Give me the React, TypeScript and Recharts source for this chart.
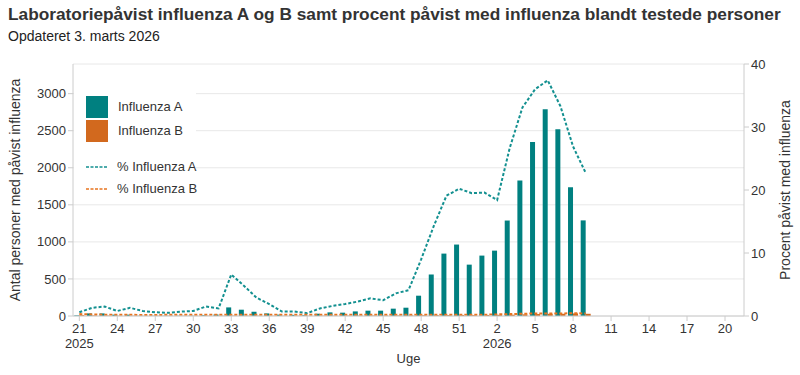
import { ComposedChart, Bar, Line, XAxis, YAxis, CartesianGrid } from "recharts";

const FONT = '"Liberation Sans", Arial, sans-serif';
const TEAL = "#008080";
const ORANGE = "#d2691e";
const TEAL_LINE = "#139090";
const ORANGE_LINE = "#e8741f";

// uge 21 2025 .. uge 21 2026
const weeks = [
  "21", "22", "23", "24", "25", "26", "27", "28", "29", "30", "31", "32", "33", "34", "35", "36",
  "37", "38", "39", "40", "41", "42", "43", "44", "45", "46", "47", "48", "49", "50", "51", "52",
  "1", "2", "3", "4", "5", "6", "7", "8", "9", "10", "11", "12", "13", "14", "15", "16",
  "17", "18", "19", "20", "21",
];
const yearLabels: Record<number, string> = { 0: "2025", 33: "2026" };

const influenzaA = [
  8, 35, 35, 18, 18, 3, 3, 3, 3, 4, 10, 20, 116, 85, 58, 35,
  18, 15, 10, 31, 49, 45, 62, 72, 72, 99, 112, 274, 560, 842, 964, 693,
  815, 882, 1288, 1828, 2346, 2788, 2518, 1738, 1290,
];
const influenzaB = [
  12, 8, 6, 4, 4, 2, 3, 4, 3, 3, 4, 4, 5, 4, 4, 3,
  3, 3, 3, 4, 4, 5, 5, 6, 6, 7, 8, 10, 12, 12, 14, 12,
  14, 16, 18, 22, 26, 30, 30, 35, 30,
];
const pctA = [
  0.6, 1.3, 1.5, 0.8, 1.3, 0.8, 0.6, 0.5, 0.7, 0.8, 1.5, 1.2, 6.6, 4.8, 2.9, 1.9,
  0.7, 0.7, 0.45, 1.2, 1.6, 1.9, 2.3, 2.8, 2.5, 3.6, 4.1, 9.0, 14.3, 19.1, 20.2, 19.5,
  19.6, 18.4, 26.7, 33.1, 36.0, 37.4, 33.3, 26.9, 22.7,
];
const pctB = [
  0.3, 0.25, 0.2, 0.2, 0.2, 0.15, 0.15, 0.2, 0.2, 0.2, 0.2, 0.2, 0.2, 0.2, 0.2, 0.2,
  0.2, 0.2, 0.2, 0.2, 0.2, 0.2, 0.2, 0.2, 0.2, 0.2, 0.2, 0.2, 0.2, 0.2, 0.2, 0.2,
  0.2, 0.25, 0.3, 0.35, 0.4, 0.4, 0.4, 0.45, 0.4,
];

const leftTicks = [0, 500, 1000, 1500, 2000, 2500, 3000];
const rightTicks = [0, 10, 20, 30, 40];

const data = weeks.map((w, i) => ({
  week: w,
  a: influenzaA[i] ?? null,
  b: influenzaB[i] ?? null,
  pa: pctA[i] ?? null,
  pb: pctB[i] ?? null,
}));

function WeekTick(props: any) {
  const { x, y, payload } = props;
  const year = yearLabels[payload.index];
  return (
    <g transform={`translate(${x},${y})`}>
      <text y={0} dy={10} textAnchor="middle" fill="#333" fontSize={13} fontFamily={FONT}>
        {payload.value}
      </text>
      {year && (
        <text y={0} dy={25} textAnchor="middle" fill="#333" fontSize={13} fontFamily={FONT}>
          {year}
        </text>
      )}
    </g>
  );
}

function ChartLegend() {
  const text = { position: "absolute" as const, left: 44, fontSize: 13, color: "#333", lineHeight: "16px", whiteSpace: "nowrap" as const };
  return (
    <div style={{ position: "absolute", left: 74, top: 90, width: 122, height: 110, background: "#fff", fontFamily: FONT }}>
      <div style={{ position: "absolute", left: 12, top: 6, width: 22, height: 22, background: TEAL }} />
      <div style={{ ...text, top: 9 }}>Influenza A</div>
      <div style={{ position: "absolute", left: 12, top: 30, width: 22, height: 22, background: ORANGE }} />
      <div style={{ ...text, top: 33 }}>Influenza B</div>
      <svg style={{ position: "absolute", left: 12, top: 72 }} width={22} height={30}>
        <line x1={0} x2={22} y1={5} y2={5} stroke={TEAL_LINE} strokeWidth={1.5} strokeDasharray="3 1.5" />
        <line x1={0} x2={22} y1={27} y2={27} stroke={ORANGE_LINE} strokeWidth={1.5} strokeDasharray="3 1.5" />
      </svg>
      <div style={{ ...text, left: 43, top: 69 }}>% Influenza A</div>
      <div style={{ ...text, left: 43, top: 91 }}>% Influenza B</div>
    </div>
  );
}

export default function App() {
  return (
    <div style={{ position: "absolute", left: 0, top: 0, width: 800, height: 375, background: "#fff", fontFamily: FONT }}>
      <div style={{ position: "absolute", left: 8, top: 4, fontSize: 17.3, fontWeight: "bold", color: "#333", whiteSpace: "nowrap" }}>
        Laboratoriepåvist influenza A og B samt procent påvist med influenza blandt testede personer
      </div>
      <div style={{ position: "absolute", left: 8, top: 28, fontSize: 14, color: "#222", whiteSpace: "nowrap" }}>
        Opdateret 3. marts 2026
      </div>
      <ComposedChart
        width={800}
        height={375}
        data={data}
        margin={{ top: 64, right: 0, bottom: 0, left: 0 }}
        barCategoryGap="10%"
        barGap={0}
      >
        <CartesianGrid yAxisId="left" vertical={false} stroke="#e8e8e8" />
        <XAxis
          dataKey="week"
          height={59}
          interval={2}
          tick={<WeekTick />}
          tickSize={5}
          axisLine={{ stroke: "#ccc" }}
          tickLine={{ stroke: "#ccc" }}
          label={{ value: "Uge", position: "insideBottom", offset: 12, fill: "#333", fontSize: 13, fontFamily: FONT }}
        />
        <YAxis
          yAxisId="left"
          width={73}
          domain={[0, 3400]}
          ticks={leftTicks}
          interval={0}
          tickSize={5}
          axisLine={{ stroke: "#ccc" }}
          tickLine={{ stroke: "#ccc" }}
          tick={{ fill: "#333", fontSize: 13, fontFamily: FONT }}
          label={{ value: "Antal personer med påvist influenza", angle: -90, position: "center", dx: -21, fill: "#333", fontSize: 14, fontFamily: FONT }}
        />
        <YAxis
          yAxisId="right"
          orientation="right"
          width={56}
          domain={[0, 40]}
          ticks={rightTicks}
          interval={0}
          tickSize={5}
          axisLine={{ stroke: "#ccc" }}
          tickLine={{ stroke: "#ccc" }}
          tick={{ fill: "#333", fontSize: 13, fontFamily: FONT, textAnchor: "start" }}
          label={{ value: "Procent påvist med influenza", angle: -90, position: "center", dx: 13, fill: "#333", fontSize: 14, fontFamily: FONT }}
        />
        <Bar yAxisId="left" dataKey="a" name="Influenza A" fill={TEAL} isAnimationActive={false} />
        <Bar yAxisId="left" dataKey="b" name="Influenza B" fill={ORANGE} isAnimationActive={false} />
        <Line
          yAxisId="right"
          type="linear"
          dataKey="pa"
          name="% Influenza A"
          stroke={TEAL_LINE}
          strokeWidth={2}
          strokeDasharray="3 2"
          dot={false}
          isAnimationActive={false}
        />
        <Line
          yAxisId="right"
          type="linear"
          dataKey="pb"
          name="% Influenza B"
          stroke={ORANGE_LINE}
          strokeWidth={2}
          strokeDasharray="3 2"
          dot={false}
          isAnimationActive={false}
        />
      </ComposedChart>
      <ChartLegend />
    </div>
  );
}
